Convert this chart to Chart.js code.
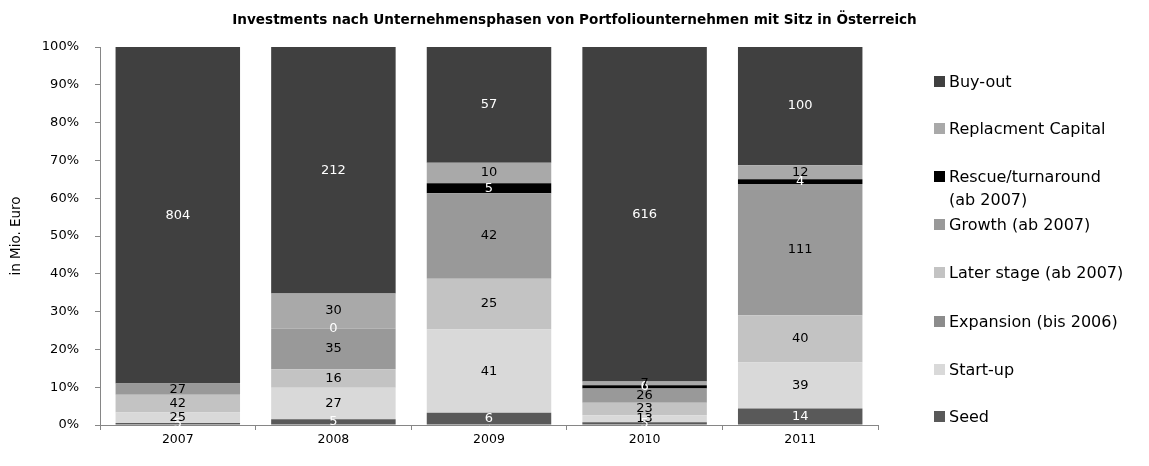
<!DOCTYPE html>
<html>
<head>
<meta charset="utf-8">
<script src="https://cdn.jsdelivr.net/npm/chart.js@4"></script>
<style>
  html, body { margin: 0; padding: 0; background: #fff; }
  #wrap { position: relative; width: 1149px; height: 466px; font-family: "DejaVu Sans", sans-serif; }
  #title { position: absolute; left: 0; top: 10px; width: 1149px; text-align: center; font-weight: bold; font-size: 13.6px; line-height: 18px; color: #000; }
  #legend { position: absolute; left: 934px; top: 0; width: 215px; }
  .li { position: absolute; left: 0; font-size: 16px; color: #000; line-height: 23px; white-space: nowrap; }
  .li span.box { position: absolute; left: 0; top: 6px; width: 11px; height: 11px; }
  .li span.txt { position: absolute; left: 15px; top: 0; }
  canvas { position: absolute; left: 0; top: 0; }
</style>
</head>
<body>
<div id="wrap">
  <canvas id="c" width="1149" height="466"></canvas>
  <div id="title">Investments nach Unternehmensphasen von Portfoliounternehmen mit Sitz in Österreich</div>
  <div id="legend"></div>
</div>
<script>
// categories
const years = ["2007", "2008", "2009", "2010", "2011"];
// series values (Mio. Euro), bottom of stack first
const seed        = [5, 5, 6, 5, 14];
const startUp     = [25, 27, 41, 13, 39];
const expansion   = [null, null, null, null, null];
const laterStage  = [42, 16, 25, 23, 40];
const growth      = [27, 35, 42, 26, 111];
const rescue      = [null, 0, 5, 6, 4];
const replacement = [null, 30, 10, 7, 12];
const buyOut      = [804, 212, 57, 616, 100];
// series names and colours
const seriesNames = ["Seed", "Start-up", "Expansion (bis 2006)", "Later stage (ab 2007)", "Growth (ab 2007)", "Rescue/turnaround (ab 2007)", "Replacment Capital", "Buy-out"];
const seriesColors = ["#595959", "#d9d9d9", "#8c8c8c", "#c3c3c3", "#999999", "#000000", "#a9a9a9", "#404040"];
const labelColors = ["#ffffff", "#000000", "#000000", "#000000", "#000000", "#ffffff", "#000000", "#ffffff"];
// y tick labels
const yTicks = [0, 10, 20, 30, 40, 50, 60, 70, 80, 90, 100];

const allSeries = [seed, startUp, expansion, laterStage, growth, rescue, replacement, buyOut];
const totals = years.map((_, i) => allSeries.reduce((s, arr) => s + (arr[i] || 0), 0));

const datasets = allSeries.map((arr, k) => ({
  label: seriesNames[k],
  raw: arr,
  data: arr.map((v, i) => v == null ? 0 : v / totals[i] * 100),
  backgroundColor: seriesColors[k],
  borderWidth: 0,
  barPercentage: 0.80,
  categoryPercentage: 1.0
}));

const valueLabels = {
  id: 'valueLabels',
  afterDatasetsDraw(chart) {
    const ctx = chart.ctx;
    ctx.save();
    ctx.font = '13px "DejaVu Sans"';
    ctx.textAlign = 'center';
    ctx.textBaseline = 'middle';
    chart.data.datasets.forEach((ds, k) => {
      const meta = chart.getDatasetMeta(k);
      meta.data.forEach((bar, i) => {
        const v = ds.raw[i];
        if (v == null) return;
        ctx.fillStyle = labelColors[k];
        ctx.fillText(String(v), bar.x, (bar.y + bar.base) / 2);
      });
    });
    ctx.restore();
  }
};

new Chart(document.getElementById('c'), {
  type: 'bar',
  data: { labels: years, datasets },
  options: {
    responsive: false,
    animation: false,
    layout: { padding: { top: 47, right: 271, left: 0, bottom: 0 } },
    plugins: { legend: { display: false }, tooltip: { enabled: false }, title: { display: false } },
    scales: {
      x: {
        stacked: true,
        grid: { display: true, drawOnChartArea: false, offset: true, tickLength: 5, color: '#868686' },
        border: { color: '#868686' },
        ticks: { color: '#000', font: { family: 'DejaVu Sans', size: 12.5 }, padding: 2 },
        afterFit(scale) { scale.height = 41; }
      },
      y: {
        stacked: true,
        min: 0, max: 100,
        afterBuildTicks(scale) { scale.ticks = yTicks.map(v => ({ value: v })); },
        grid: { display: true, drawOnChartArea: false, tickLength: 5, color: '#868686' },
        border: { color: '#868686' },
        ticks: { color: '#000', font: { family: 'DejaVu Sans', size: 13 }, padding: 16, callback: v => v + '%' },
        title: { display: true, text: 'in Mio. Euro', color: '#000', font: { family: 'DejaVu Sans', size: 13.5 }, padding: { top: 8, bottom: 0 } },
        afterFit(scale) { scale.width = 100; }
      }
    }
  },
  plugins: [valueLabels]
});

// legend (top of list = top of stack)
const legendTops = [82, 129, 177, 225, 273, 322, 370, 417];
const lg = document.getElementById('legend');
for (let j = 0; j < seriesNames.length; j++) {
  const k = seriesNames.length - 1 - j;
  const d = document.createElement('div');
  d.className = 'li';
  d.style.top = (legendTops[j] - 12) + 'px';
  let name = seriesNames[k];
  if (name.indexOf('Rescue') === 0) name = 'Rescue/turnaround<br>(ab 2007)';
  d.innerHTML = '<span class="box" style="background:' + seriesColors[k] + '"></span><span class="txt">' + name + '</span>';
  lg.appendChild(d);
}
</script>
</body>
</html>
